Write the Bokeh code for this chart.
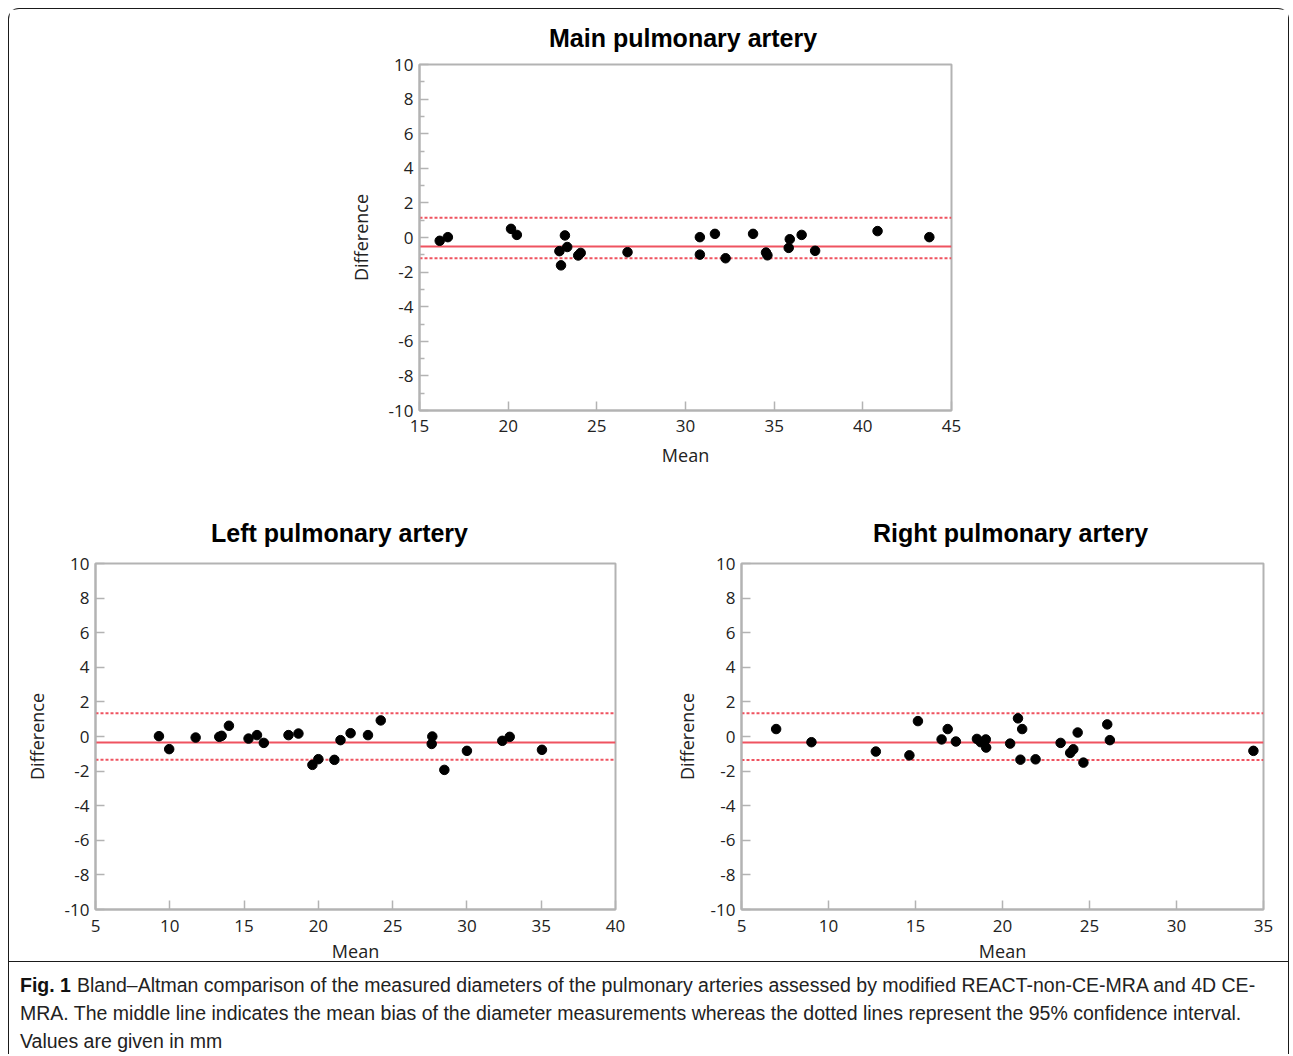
from bokeh.plotting import figure
from bokeh.models import Range1d, FixedTicker, Span, Label
from bokeh.layouts import column, row
from bokeh.embed import file_html
from bokeh.resources import INLINE

# ---------------- data ----------------
main_mean = [16.14, 16.6, 20.16, 20.49, 22.89, 22.98, 23.2, 23.33, 23.95, 24.09, 26.73,
             30.81, 30.81, 31.66, 32.26, 33.81, 34.54, 34.62, 35.88, 35.82, 36.55, 37.31,
             40.83, 43.75]
main_diff = [-0.19, 0.02, 0.50, 0.15, -0.79, -1.61, 0.12, -0.55, -1.04, -0.89, -0.85,
             0.02, -0.99, 0.21, -1.2, 0.21, -0.87, -1.03, -0.1, -0.6, 0.15, -0.77,
             0.37, 0.02]
main_bias, main_upper, main_lower = -0.52, 1.14, -1.2

left_mean = [9.27, 9.96, 11.74, 13.33, 13.49, 13.98, 15.3, 15.87, 16.33, 17.99, 18.66,
             19.6, 20.0, 21.08, 21.49, 22.17, 23.34, 24.2, 27.67, 27.63, 28.48, 30.0,
             32.38, 32.88, 35.05]
left_diff = [0.02, -0.73, -0.06, -0.02, 0.04, 0.62, -0.12, 0.08, -0.37, 0.08, 0.17,
             -1.64, -1.31, -1.35, -0.21, 0.19, 0.08, 0.93, 0.0, -0.43, -1.93, -0.83,
             -0.25, -0.02, -0.77]
left_bias, left_upper, left_lower = -0.35, 1.35, -1.35

right_mean = [6.99, 9.02, 12.72, 14.65, 15.14, 16.5, 16.85, 17.32, 18.53, 18.75, 19.04,
              19.06, 20.44, 20.89, 21.13, 21.03, 21.9, 23.34, 23.89, 24.07, 24.32, 24.65,
              26.02, 26.17, 34.42]
right_diff = [0.43, -0.33, -0.87, -1.09, 0.89, -0.17, 0.43, -0.29, -0.14, -0.33, -0.17,
              -0.64, -0.41, 1.05, 0.43, -1.34, -1.32, -0.37, -0.95, -0.74, 0.23, -1.51,
              0.7, -0.21, -0.83]
right_bias, right_upper, right_lower = -0.35, 1.34, -1.36

y_ticks = [-10, -8, -6, -4, -2, 0, 2, 4, 6, 8, 10]
y_minor = [-9, -7, -5, -3, -1, 1, 3, 5, 7, 9]
main_xticks = [15, 20, 25, 30, 35, 40, 45]
left_xticks = [5, 10, 15, 20, 25, 30, 35, 40]
right_xticks = [5, 10, 15, 20, 25, 30, 35]

titles = ["Main pulmonary artery", "Left pulmonary artery", "Right pulmonary artery"]
caption_bold = "Fig. 1"
caption_lines = [
    "Bland\u2013Altman comparison of the measured diameters of the pulmonary arteries assessed by modified REACT-non-CE-MRA and 4D CE-",
    "MRA. The middle line indicates the mean bias of the diameter measurements whereas the dotted lines represent the 95% confidence interval.",
    "Values are given in mm",
]

# ---------------- style ----------------
RED = "#ef5360"
GRAY = "#b3b3b3"
TXT = "#222222"
FONT = "Open Sans"
TITLE_FONT = "Liberation Sans"
CAP_FONT = "Liberation Sans"


def panel(title, toff, tstand, xs, ys, bias, upper, lower, xr, xticks, minor,
          w, h, mbl, mbr, mbt, mbb, ylab_st, xtick_st, xlab_st):
    p = figure(width=w, height=h, x_range=Range1d(*xr), y_range=Range1d(-10, 10),
               output_backend="svg", toolbar_location=None, title=title,
               min_border_left=mbl, min_border_right=mbr, min_border_top=mbt,
               min_border_bottom=mbb)
    p.title.align = "left"
    p.title.offset = toff
    p.title.standoff = tstand
    p.title.text_font = TITLE_FONT
    p.title.text_font_style = "bold"
    p.title.text_font_size = "25px"
    p.title.text_color = "black"
    p.xgrid.visible = False
    p.ygrid.visible = False
    p.outline_line_color = GRAY
    p.outline_line_width = 2
    p.background_fill_color = "white"
    p.border_fill_color = "white"
    p.xaxis.ticker = FixedTicker(ticks=xticks, minor_ticks=[])
    p.yaxis.ticker = FixedTicker(ticks=y_ticks, minor_ticks=minor)
    p.xaxis.major_label_overrides = {v: str(v) for v in xticks}
    p.yaxis.major_label_overrides = {v: str(v) for v in y_ticks}
    for ax in (p.xaxis, p.yaxis):
        ax.axis_line_color = GRAY
        ax.axis_line_width = 2
        ax.major_tick_line_color = GRAY
        ax.minor_tick_line_color = GRAY
        ax.major_tick_line_width = 1.5
        ax.minor_tick_line_width = 1.5
        ax.major_tick_in = 9
        ax.major_tick_out = 0
        ax.minor_tick_in = 5
        ax.minor_tick_out = 0
        ax.major_label_text_font = FONT
        ax.major_label_text_font_size = "17px"
        ax.major_label_text_color = TXT
        ax.axis_label_text_font = FONT
        ax.axis_label_text_font_size = "18px"
        ax.axis_label_text_font_style = "normal"
        ax.axis_label_text_color = TXT
    p.xaxis.axis_label = "Mean"
    p.yaxis.axis_label = "Difference"
    p.yaxis.major_label_standoff = 6
    p.xaxis.major_label_standoff = xtick_st
    p.yaxis.axis_label_standoff = ylab_st
    p.xaxis.axis_label_standoff = xlab_st
    for val, dash in ((bias, "solid"), (upper, "3 2"), (lower, "3 2")):
        s = Span(location=val, dimension="width", line_color=RED, line_width=2,
                 line_dash=dash, level="underlay")
        p.add_layout(s)
    p.scatter(xs, ys, size=9.5, color="black")
    return p


W = 1279
top = panel(titles[0], 129.5, 25, main_mean, main_diff, main_bias, main_upper,
            main_lower, (15, 45), main_xticks, y_minor, W, 478, 410, 337, 54, 77,
            13, 9, 8)
left = panel(titles[1], 115.5, 33, left_mean, left_diff, left_bias, left_upper,
             left_lower, (5, 40), left_xticks, [], 650, 481, 86, 44, 76, 59,
             13, 10, 4)
right = panel(titles[2], 131.5, 33, right_mean, right_diff, right_bias, right_upper,
              right_lower, (5, 35), right_xticks, [], 629, 481, 82, 25, 76, 59,
              9, 10, 4)

# caption panel (1 data unit = 1 px)
CH = 92
cap = figure(width=W, height=CH, x_range=Range1d(0, W), y_range=Range1d(0, CH),
             output_backend="svg", toolbar_location=None, x_axis_type=None,
             y_axis_type=None, min_border=0)
cap.xgrid.visible = False
cap.ygrid.visible = False
cap.outline_line_color = None
cap.background_fill_color = "white"
cap.border_fill_color = "white"
ys_cap = [70, 41.5, 14]
cap.add_layout(Label(x=10.5, y=ys_cap[0], text=caption_bold, text_font=CAP_FONT,
                     text_font_style="bold", text_font_size="19.5px", text_color="#111111",
                     text_baseline="middle", text_align="left"))
for i, t in enumerate(caption_lines):
    cap.add_layout(Label(x=10.5 + (57 if i == 0 else 0), y=ys_cap[i], text=t,
                         text_font=CAP_FONT, text_font_size="19.5px", text_color="#222222",
                         text_baseline="middle", text_align="left"))

cap_row = row(cap, styles={"margin-top": "-7px", "border-top": "1.5px solid #1a1a1a"})

layout = column(top, row(left, right), cap_row,
                styles={"margin-left": "8px", "margin-top": "8px",
                        "border-top": "1.5px solid #1a1a1a",
                        "border-left": "1.5px solid #1a1a1a",
                        "border-right": "1.5px solid #1a1a1a",
                        "border-radius": "11px 11px 0 0"})

open("out.html", "w").write(file_html(layout, INLINE))
